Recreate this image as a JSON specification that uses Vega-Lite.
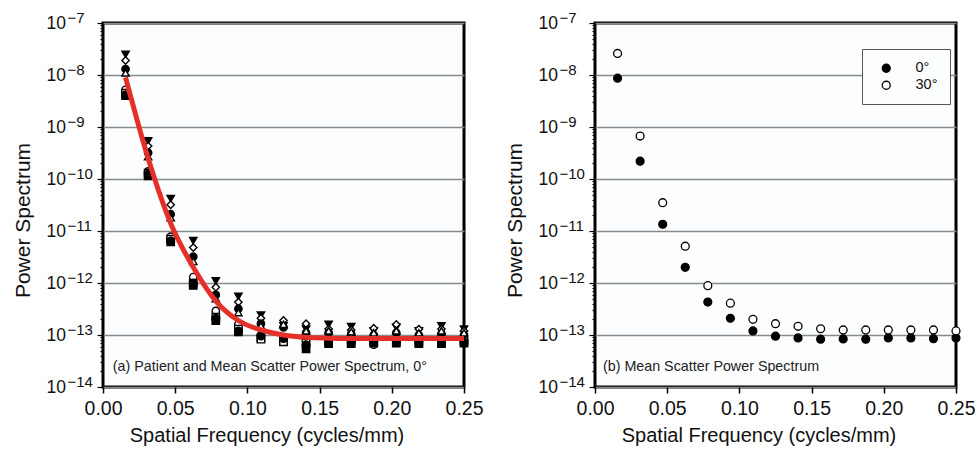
{
  "$schema": "https://vega.github.io/schema/vega-lite/v6.json",
  "padding": {"left": 10, "top": 9, "right": 2, "bottom": 5},
  "background": "white",
  "config": {
    "font": "Liberation Sans",
    "view": {"stroke": "black", "strokeWidth": 3, "fill": "#fcfdff"},
    "axis": {"labelColor": "#111", "titleColor": "#111", "titleFontWeight": "normal", "labelFont": "Liberation Sans", "titleFont": "Liberation Sans"}
  },
  "datasets": {
    "scatter": [
      {"s":"A","x":0.015625,"y":2.5e-8},{"s":"A","x":0.03125,"y":5.4e-10},{"s":"A","x":0.046875,"y":4.2e-11},{"s":"A","x":0.0625,"y":6.5e-12},{"s":"A","x":0.078125,"y":1.1e-12},{"s":"A","x":0.09375,"y":5.5e-13},{"s":"A","x":0.109375,"y":2.4e-13},{"s":"A","x":0.125,"y":1.5e-13},{"s":"A","x":0.140625,"y":1.3e-13},{"s":"A","x":0.15625,"y":1.6e-13},{"s":"A","x":0.171875,"y":1.45e-13},{"s":"A","x":0.1875,"y":1.2e-13},{"s":"A","x":0.203125,"y":1.4e-13},{"s":"A","x":0.21875,"y":1.2e-13},{"s":"A","x":0.234375,"y":1.5e-13},{"s":"A","x":0.25,"y":1.3e-13},
      {"s":"B","x":0.015625,"y":1.9e-8},{"s":"B","x":0.03125,"y":4.3e-10},{"s":"B","x":0.046875,"y":3.2e-11},{"s":"B","x":0.0625,"y":4.8e-12},{"s":"B","x":0.078125,"y":8.3e-13},{"s":"B","x":0.09375,"y":4.3e-13},{"s":"B","x":0.109375,"y":2.1e-13},{"s":"B","x":0.125,"y":1.9e-13},{"s":"B","x":0.140625,"y":1.65e-13},{"s":"B","x":0.15625,"y":1.3e-13},{"s":"B","x":0.171875,"y":1.25e-13},{"s":"B","x":0.1875,"y":1.35e-13},{"s":"B","x":0.203125,"y":1.6e-13},{"s":"B","x":0.21875,"y":1.3e-13},{"s":"B","x":0.234375,"y":1.3e-13},{"s":"B","x":0.25,"y":1.2e-13},
      {"s":"C","x":0.015625,"y":1.3e-8},{"s":"C","x":0.03125,"y":3.2e-10},{"s":"C","x":0.046875,"y":2.1e-11},{"s":"C","x":0.0625,"y":3.2e-12},{"s":"C","x":0.078125,"y":5.9e-13},{"s":"C","x":0.09375,"y":3.2e-13},{"s":"C","x":0.109375,"y":1.65e-13},{"s":"C","x":0.125,"y":1.4e-13},{"s":"C","x":0.140625,"y":1.1e-13},{"s":"C","x":0.15625,"y":1.1e-13},{"s":"C","x":0.171875,"y":1.05e-13},{"s":"C","x":0.1875,"y":1.0e-13},{"s":"C","x":0.203125,"y":1.1e-13},{"s":"C","x":0.21875,"y":1.0e-13},{"s":"C","x":0.234375,"y":1.05e-13},{"s":"C","x":0.25,"y":1.0e-13},
      {"s":"D","x":0.015625,"y":1.1e-8},{"s":"D","x":0.03125,"y":2.7e-10},{"s":"D","x":0.046875,"y":1.8e-11},{"s":"D","x":0.0625,"y":2.6e-12},{"s":"D","x":0.078125,"y":5.0e-13},{"s":"D","x":0.09375,"y":2.7e-13},{"s":"D","x":0.109375,"y":1.5e-13},{"s":"D","x":0.125,"y":1.6e-13},{"s":"D","x":0.140625,"y":1.2e-13},{"s":"D","x":0.15625,"y":1.2e-13},{"s":"D","x":0.171875,"y":1.15e-13},{"s":"D","x":0.1875,"y":1.1e-13},{"s":"D","x":0.203125,"y":1.2e-13},{"s":"D","x":0.21875,"y":1.1e-13},{"s":"D","x":0.234375,"y":1.2e-13},{"s":"D","x":0.25,"y":1.1e-13},
      {"s":"E","x":0.015625,"y":5.2e-9},{"s":"E","x":0.03125,"y":1.4e-10},{"s":"E","x":0.046875,"y":7.8e-12},{"s":"E","x":0.0625,"y":1.3e-12},{"s":"E","x":0.078125,"y":2.9e-13},{"s":"E","x":0.09375,"y":1.6e-13},{"s":"E","x":0.109375,"y":1.0e-13},{"s":"E","x":0.125,"y":9.0e-14},{"s":"E","x":0.140625,"y":8.0e-14},{"s":"E","x":0.15625,"y":8.0e-14},{"s":"E","x":0.171875,"y":8.5e-14},{"s":"E","x":0.1875,"y":6.5e-14},{"s":"E","x":0.203125,"y":8.0e-14},{"s":"E","x":0.21875,"y":8.0e-14},{"s":"E","x":0.234375,"y":8.0e-14},{"s":"E","x":0.25,"y":8.0e-14},
      {"s":"F","x":0.015625,"y":4.0e-9},{"s":"F","x":0.03125,"y":1.15e-10},{"s":"F","x":0.046875,"y":6.2e-12},{"s":"F","x":0.0625,"y":9.0e-13},{"s":"F","x":0.078125,"y":1.9e-13},{"s":"F","x":0.09375,"y":1.15e-13},{"s":"F","x":0.109375,"y":8.8e-14},{"s":"F","x":0.125,"y":7.6e-14},{"s":"F","x":0.140625,"y":5.4e-14},{"s":"F","x":0.15625,"y":6.8e-14},{"s":"F","x":0.171875,"y":6.8e-14},{"s":"F","x":0.1875,"y":7.0e-14},{"s":"F","x":0.203125,"y":7.0e-14},{"s":"F","x":0.21875,"y":6.8e-14},{"s":"F","x":0.234375,"y":6.8e-14},{"s":"F","x":0.25,"y":7.0e-14},
      {"s":"G","x":0.015625,"y":4.5e-9},{"s":"G","x":0.03125,"y":1.3e-10},{"s":"G","x":0.046875,"y":7.0e-12},{"s":"G","x":0.0625,"y":1.0e-12},{"s":"G","x":0.078125,"y":2.2e-13},{"s":"G","x":0.09375,"y":1.3e-13},{"s":"G","x":0.109375,"y":8.3e-14},{"s":"G","x":0.125,"y":7.4e-14},{"s":"G","x":0.140625,"y":7.0e-14},{"s":"G","x":0.15625,"y":7.3e-14},{"s":"G","x":0.171875,"y":7.5e-14},{"s":"G","x":0.1875,"y":7.5e-14},{"s":"G","x":0.203125,"y":7.5e-14},{"s":"G","x":0.21875,"y":7.3e-14},{"s":"G","x":0.234375,"y":7.3e-14},{"s":"G","x":0.25,"y":7.5e-14},
      {"s":"H","x":0.015625,"y":4.2e-9},{"s":"H","x":0.03125,"y":1.25e-10},{"s":"H","x":0.046875,"y":6.5e-12},{"s":"H","x":0.0625,"y":1.0e-12},{"s":"H","x":0.078125,"y":2.1e-13},{"s":"H","x":0.09375,"y":1.2e-13},{"s":"H","x":0.109375,"y":9.5e-14},{"s":"H","x":0.125,"y":8.5e-14},{"s":"H","x":0.140625,"y":6.5e-14},{"s":"H","x":0.15625,"y":7.0e-14},{"s":"H","x":0.171875,"y":7.2e-14},{"s":"H","x":0.1875,"y":7.5e-14},{"s":"H","x":0.203125,"y":7.5e-14},{"s":"H","x":0.21875,"y":7.2e-14},{"s":"H","x":0.234375,"y":7.2e-14},{"s":"H","x":0.25,"y":7.2e-14}
    ],
    "fit": [
      {"x":0.015625,"y":9e-9},{"x":0.03125,"y":2.5e-10},{"x":0.046875,"y":1.4e-11},{"x":0.0625,"y":2e-12},{"x":0.078125,"y":4.5e-13},{"x":0.09375,"y":1.9e-13},{"x":0.109375,"y":1.25e-13},{"x":0.125,"y":1.0e-13},{"x":0.140625,"y":9e-14},{"x":0.15625,"y":8.7e-14},{"x":0.171875,"y":8.6e-14},{"x":0.1875,"y":8.6e-14},{"x":0.203125,"y":8.6e-14},{"x":0.21875,"y":8.6e-14},{"x":0.234375,"y":8.6e-14},{"x":0.25,"y":8.6e-14}
    ],
    "mean": [
      {"a":"0°","x":0.015625,"y":8.7e-9},{"a":"0°","x":0.03125,"y":2.2e-10},{"a":"0°","x":0.046875,"y":1.35e-11},{"a":"0°","x":0.0625,"y":2.0e-12},{"a":"0°","x":0.078125,"y":4.3e-13},{"a":"0°","x":0.09375,"y":2.1e-13},{"a":"0°","x":0.109375,"y":1.2e-13},{"a":"0°","x":0.125,"y":9.5e-14},{"a":"0°","x":0.140625,"y":8.8e-14},{"a":"0°","x":0.15625,"y":8.3e-14},{"a":"0°","x":0.171875,"y":8.4e-14},{"a":"0°","x":0.1875,"y":8.3e-14},{"a":"0°","x":0.203125,"y":8.8e-14},{"a":"0°","x":0.21875,"y":8.8e-14},{"a":"0°","x":0.234375,"y":8.5e-14},{"a":"0°","x":0.25,"y":8.8e-14},
      {"a":"30°","x":0.015625,"y":2.6e-8},{"a":"30°","x":0.03125,"y":6.7e-10},{"a":"30°","x":0.046875,"y":3.5e-11},{"a":"30°","x":0.0625,"y":5.1e-12},{"a":"30°","x":0.078125,"y":8.9e-13},{"a":"30°","x":0.09375,"y":4.1e-13},{"a":"30°","x":0.109375,"y":2.0e-13},{"a":"30°","x":0.125,"y":1.65e-13},{"a":"30°","x":0.140625,"y":1.47e-13},{"a":"30°","x":0.15625,"y":1.32e-13},{"a":"30°","x":0.171875,"y":1.25e-13},{"a":"30°","x":0.1875,"y":1.25e-13},{"a":"30°","x":0.203125,"y":1.25e-13},{"a":"30°","x":0.21875,"y":1.25e-13},{"a":"30°","x":0.234375,"y":1.25e-13},{"a":"30°","x":0.25,"y":1.2e-13}
    ],
    "exps": [
      {"v":1e-7,"e":"−7"},{"v":1e-8,"e":"−8"},{"v":1e-9,"e":"−9"},{"v":1e-10,"e":"−10"},{"v":1e-11,"e":"−11"},{"v":1e-12,"e":"−12"},{"v":1e-13,"e":"−13"},{"v":1e-14,"e":"−14"}
    ]
  },
  "spacing": 17,
  "resolve": {"scale": {"fill": "independent", "shape": "independent"}, "legend": {"fill": "independent"}},
  "hconcat": [
    {
      "width": 361,
      "height": 364,
      "layer": [
        {
          "data": {"name": "scatter"},
          "mark": {"type": "point", "filled": true, "stroke": "black", "strokeWidth": 1.4, "size": 54, "opacity": 1},
          "encoding": {
            "x": {"field": "x", "type": "quantitative", "scale": {"domain": [0, 0.25], "nice": false, "zero": false},
              "axis": {"values": [0, 0.05, 0.1, 0.15, 0.2, 0.25], "format": ".2f", "labelFlush": false, "title": "Spatial Frequency (cycles/mm)", "titleX": 163.5, "grid": false, "domain": false, "tickSize": 6, "tickWidth": 1.5, "tickColor": "black", "labelFontSize": 19.5, "titleFontSize": 20, "labelPadding": 6, "titlePadding": 8}},
            "y": {"field": "y", "type": "quantitative", "scale": {"type": "log", "domain": [1e-14, 1e-7], "nice": false},
              "axis": {"title": "Power Spectrum", "titleY": 197, "titleFontSize": 21, "titlePadding": 13, "labelFontSize": 17.5, "labelAlign": "left", "labelPadding": 51, "domain": false, "labelOverlap": false, "labelBound": false,
                "values": [1e-14,2e-14,3e-14,4e-14,5e-14,6e-14,7e-14,8e-14,9e-14,1e-13,2e-13,3e-13,4e-13,5e-13,6e-13,7e-13,8e-13,9e-13,1e-12,2e-12,3e-12,4e-12,5e-12,6e-12,7e-12,8e-12,9e-12,1e-11,2e-11,3e-11,4e-11,5e-11,6e-11,7e-11,8e-11,9e-11,1e-10,2e-10,3e-10,4e-10,5e-10,6e-10,7e-10,8e-10,9e-10,1e-9,2e-9,3e-9,4e-9,5e-9,6e-9,7e-9,8e-9,9e-9,1e-8,2e-8,3e-8,4e-8,5e-8,6e-8,7e-8,8e-8,9e-8,1e-7],
                "labelExpr": "abs(log(datum.value)/LN10 - round(log(datum.value)/LN10)) < 0.001 ? '10' : ''",
                "tickColor": "black", "tickWidth": 1.2,
                "tickSize": {"condition": {"test": "abs(log(datum.value)/LN10 - round(log(datum.value)/LN10)) < 0.001", "value": 6}, "value": 3},
                "grid": true, "gridColor": "#858a8c", "gridWidth": 1.5,
                "gridOpacity": {"condition": {"test": "abs(log(datum.value)/LN10 - round(log(datum.value)/LN10)) < 0.001", "value": 1}, "value": 0}}},
            "shape": {"field": "s", "type": "nominal", "legend": null, "scale": {"domain": ["A","B","C","D","E","F","G","H"], "range": ["triangle-down","diamond","circle","triangle-up","circle","square","square","circle"]}},
            "fill": {"field": "s", "type": "nominal", "legend": null, "scale": {"domain": ["A","B","C","D","E","F","G","H"], "range": ["black","white","black","white","white","black","white","black"]}}
          }
        },
        {
          "data": {"name": "fit"},
          "mark": {"type": "line", "color": "#e5302a", "strokeWidth": 5, "interpolate": "monotone"},
          "encoding": {
            "x": {"field": "x", "type": "quantitative"},
            "y": {"field": "y", "type": "quantitative"}
          }
        },
        {
          "data": {"name": "exps"},
          "mark": {"type": "text", "align": "left", "baseline": "middle", "fontSize": 15, "dy": -5, "color": "#111"},
          "encoding": {
            "x": {"datum": -0.0246},
            "y": {"field": "v", "type": "quantitative"},
            "text": {"field": "e"}
          }
        },
        {
          "data": {"values": [{"label": "(a) Patient and Mean Scatter Power Spectrum, 0°"}]},
          "mark": {"type": "text", "align": "left", "baseline": "middle", "fontSize": 14.3, "color": "#222"},
          "encoding": {
            "x": {"datum": 0.0068},
            "y": {"datum": 2.45e-14},
            "text": {"field": "label"}
          }
        }
      ]
    },
    {
      "width": 361,
      "height": 364,
      "layer": [
        {
          "data": {"name": "mean"},
          "mark": {"type": "point", "filled": true, "stroke": "black", "strokeWidth": 1.3, "size": 62, "opacity": 1},
          "encoding": {
            "x": {"field": "x", "type": "quantitative", "scale": {"domain": [0, 0.25], "nice": false, "zero": false},
              "axis": {"values": [0, 0.05, 0.1, 0.15, 0.2, 0.25], "format": ".2f", "labelFlush": false, "title": "Spatial Frequency (cycles/mm)", "titleX": 163.5, "grid": false, "domain": false, "tickSize": 6, "tickWidth": 1.5, "tickColor": "black", "labelFontSize": 19.5, "titleFontSize": 20, "labelPadding": 6, "titlePadding": 8}},
            "y": {"field": "y", "type": "quantitative", "scale": {"type": "log", "domain": [1e-14, 1e-7], "nice": false},
              "axis": {"title": "Power Spectrum", "titleY": 197, "titleFontSize": 21, "titlePadding": 13, "labelFontSize": 17.5, "labelAlign": "left", "labelPadding": 51, "domain": false, "labelOverlap": false, "labelBound": false,
                "values": [1e-14,2e-14,3e-14,4e-14,5e-14,6e-14,7e-14,8e-14,9e-14,1e-13,2e-13,3e-13,4e-13,5e-13,6e-13,7e-13,8e-13,9e-13,1e-12,2e-12,3e-12,4e-12,5e-12,6e-12,7e-12,8e-12,9e-12,1e-11,2e-11,3e-11,4e-11,5e-11,6e-11,7e-11,8e-11,9e-11,1e-10,2e-10,3e-10,4e-10,5e-10,6e-10,7e-10,8e-10,9e-10,1e-9,2e-9,3e-9,4e-9,5e-9,6e-9,7e-9,8e-9,9e-9,1e-8,2e-8,3e-8,4e-8,5e-8,6e-8,7e-8,8e-8,9e-8,1e-7],
                "labelExpr": "abs(log(datum.value)/LN10 - round(log(datum.value)/LN10)) < 0.001 ? '10' : ''",
                "tickColor": "black", "tickWidth": 1.2,
                "tickSize": {"condition": {"test": "abs(log(datum.value)/LN10 - round(log(datum.value)/LN10)) < 0.001", "value": 6}, "value": 3},
                "grid": true, "gridColor": "#858a8c", "gridWidth": 1.5,
                "gridOpacity": {"condition": {"test": "abs(log(datum.value)/LN10 - round(log(datum.value)/LN10)) < 0.001", "value": 1}, "value": 0}}},
            "fill": {"field": "a", "type": "nominal", "scale": {"domain": ["0°","30°"], "range": ["black","white"]},
              "legend": {"title": null, "orient": "none", "legendX": 267, "legendY": 26, "padding": 12, "symbolOffset": 5, "labelOffset": 22, "rowPadding": 2, "symbolSize": 64, "symbolType": "circle", "symbolStrokeColor": "black", "symbolStrokeWidth": 1.3, "labelFontSize": 14.5, "labelFont": "Liberation Sans", "labelColor": "#111", "strokeColor": "#555", "fillColor": "#fcfdff"}}
          }
        },
        {
          "data": {"name": "exps"},
          "mark": {"type": "text", "align": "left", "baseline": "middle", "fontSize": 15, "dy": -5, "color": "#111"},
          "encoding": {
            "x": {"datum": -0.0246},
            "y": {"field": "v", "type": "quantitative"},
            "text": {"field": "e"}
          }
        },
        {
          "data": {"values": [{"label": "(b) Mean Scatter Power Spectrum"}]},
          "mark": {"type": "text", "align": "left", "baseline": "middle", "fontSize": 14.3, "color": "#222"},
          "encoding": {
            "x": {"datum": 0.0055},
            "y": {"datum": 2.45e-14},
            "text": {"field": "label"}
          }
        }
      ]
    }
  ]
}
